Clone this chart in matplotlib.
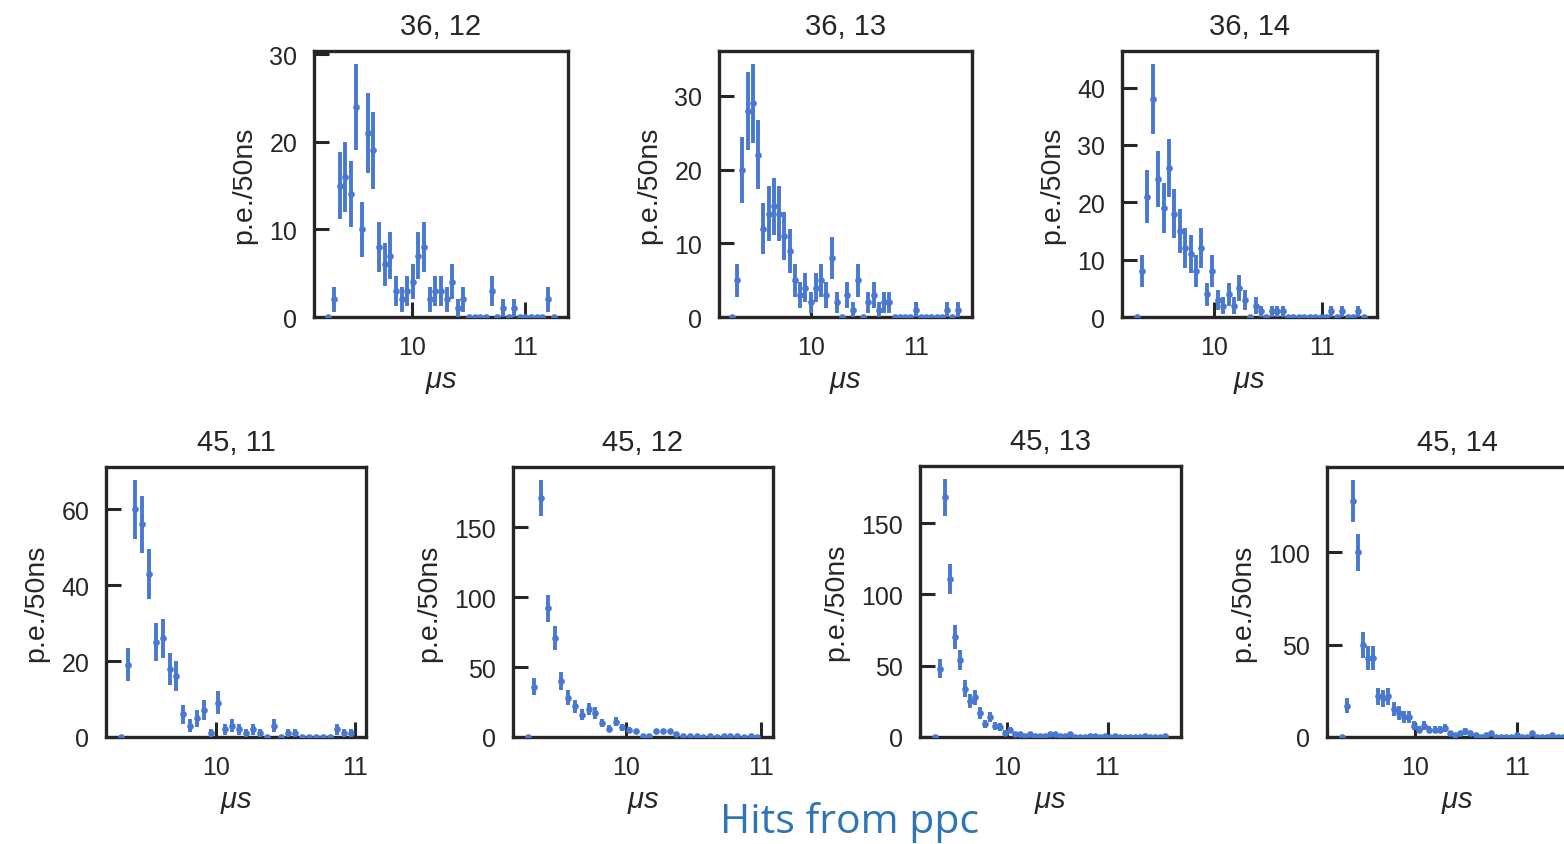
import numpy as np
import matplotlib
matplotlib.use("Agg")
import matplotlib.pyplot as plt

# ---- data: photo-electron counts per 50 ns bin, per (string, DOM) ----
titles = ["36, 12", "36, 13", "36, 14", "45, 11", "45, 12", "45, 13", "45, 14"]

# time of first bin (µs) for each channel
t_start = [9.257, 9.242, 9.282, 9.318, 9.274, 9.277, 9.293]
bin_width = 0.05  # µs

counts_36_12 = [0, 2, 15, 16, 14, 24, 10, 21, 19, 8, 6, 7, 3, 2, 3, 4, 7, 8, 2, 3,
                3, 2, 4, 1, 2, 0, 0, 0, 0, 3, 0, 1, 0, 1, 0, 0, 0, 0, 0, 2, 0]
counts_36_13 = [0, 5, 20, 28, 29, 22, 12, 14, 15, 14, 11, 9, 5, 3, 4, 2, 4, 5, 3, 8,
                2, 0, 3, 1, 5, 0, 2, 3, 1, 2, 2, 0, 0, 0, 0, 1, 0, 0, 0, 0, 0, 1, 0, 1]
counts_36_14 = [0, 8, 21, 38, 24, 19, 26, 18, 15, 12, 11, 8, 12, 4, 8, 3, 2, 4, 2, 5,
                3, 0, 2, 1, 0, 1, 1, 1, 0, 0, 0, 0, 0, 0, 0, 0, 1, 0, 1, 0, 0, 1, 0]
counts_45_11 = [0, 19, 60, 56, 43, 25, 26, 18, 16, 6, 3, 5, 7, 1, 9, 2, 3, 2, 1, 2,
                1, 0, 3, 0, 1, 1, 0, 0, 0, 0, 0, 2, 1, 1]
counts_45_12 = [0, 36, 171, 92, 71, 40, 28, 22, 16, 20, 17, 10, 6, 11, 7, 5, 4, 1, 1, 4,
                4, 4, 2, 1, 1, 1, 0, 1, 0, 1, 1, 1, 0, 1, 0]
counts_45_13 = [0, 48, 168, 111, 70, 54, 34, 25, 28, 17, 9, 14, 8, 7, 3, 5, 2, 2, 1, 2,
                1, 1, 1, 2, 2, 1, 1, 2, 0, 0, 0, 1, 1, 0, 1, 0, 1, 0, 0, 0, 0, 0, 1, 0,
                0, 0, 1]
counts_45_14 = [0, 17, 128, 100, 50, 43, 43, 22, 21, 22, 15, 13, 11, 11, 6, 4, 6, 4, 4, 4,
                5, 2, 1, 2, 3, 2, 1, 0, 1, 2, 0, 0, 0, 0, 1, 0, 0, 2, 0, 0, 0, 1, 0, 0]

all_counts = [counts_36_12, counts_36_13, counts_36_14,
              counts_45_11, counts_45_12, counts_45_13, counts_45_14]

xticks = [10, 11]
yticks = [[0, 10, 20, 30], [0, 10, 20, 30], [0, 10, 20, 30, 40],
          [0, 20, 40, 60], [0, 50, 100, 150], [0, 50, 100, 150], [0, 50, 100]]

# ---- layout ----
W, H = 1564, 845
# axes boxes in pixels: (left, top, right, bottom)
boxes = [(314, 52, 568, 318), (719, 52, 972, 318), (1122, 52, 1377, 318),
         (106, 468, 366, 738), (513, 468, 773, 738), (920, 467, 1181, 738),
         (1327, 468, 1588, 738)]
xlims = [(9.130, 11.385), (9.12, 11.53), (9.148, 11.504),
         (9.2125, 11.077), (9.165, 11.09), (9.127, 11.734), (9.143, 11.69)]

plt.rcParams["font.family"] = ["Liberation Sans", "DejaVu Sans"]
plt.rcParams["mathtext.fontset"] = "custom"
plt.rcParams["mathtext.it"] = "Liberation Sans:italic"
plt.rcParams["mathtext.rm"] = "Liberation Sans"

ink = "#262626"
blue = "#4878d0"

fig = plt.figure(figsize=(W / 100, H / 100), dpi=100)
fig.patch.set_facecolor("white")

for title, t0, counts, box, xl, yt in zip(titles, t_start, all_counts, boxes, xlims, yticks):
    l, t, r, b = box
    ax = fig.add_axes([l / W, 1 - b / H, (r - l) / W, (b - t) / H])
    y = np.asarray(counts, dtype=float)
    x = t0 + bin_width * np.arange(len(y))
    ax.errorbar(x, y, yerr=np.sqrt(y), fmt="o", ms=4.8, mew=0, color=blue,
                ecolor=blue, elinewidth=2.8, capsize=0, zorder=3)
    ax.set_xlim(*xl)
    ax.autoscale(axis="y")
    ax.set_ylim(bottom=0)
    ax.set_xticks(xticks)
    ax.set_yticks(yt)
    ax.tick_params(direction="in", length=11, width=2.2, color=ink,
                   labelsize=18, labelcolor=ink)
    ax.tick_params(axis="x", pad=13)
    ax.tick_params(axis="y", pad=12)
    for sp in ax.spines.values():
        sp.set_linewidth(2.4)
        sp.set_color(ink)
    ax.set_title(title, fontsize=21, color=ink, pad=12)
    ax.set_ylabel("p.e./50ns", fontsize=20.5, color=ink, labelpad=9)
    ax.set_xlabel(r"$\mu s$", fontsize=21, color=ink, labelpad=6)

fig.text(850 / W, 1 - 833 / H, "Hits from ppc", ha="center", va="baseline",
         fontsize=29.5, color="#2e75b6", family=["Open Sans", "DejaVu Sans"])

fig.savefig("out.png", dpi=100, facecolor="white")
